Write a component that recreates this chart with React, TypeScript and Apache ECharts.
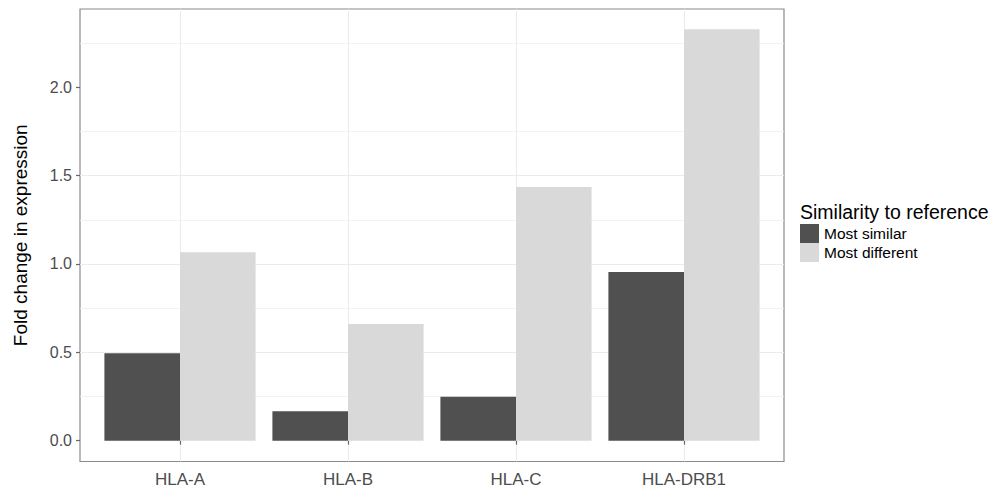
import React, { useEffect, useRef } from "react";
import * as echarts from "echarts";

const categories = ["HLA-A", "HLA-B", "HLA-C", "HLA-DRB1"];
const mostSimilar = [0.495, 0.166, 0.249, 0.955];
const mostDifferent = [1.066, 0.66, 1.436, 2.328];
const yTicks = [0, 0.5, 1, 1.5, 2];
const yMinor = [0.25, 0.75, 1.25, 1.75, 2.25];
const yMin = -0.118;
const yMax = 2.443;

const FONT = "Liberation Sans";

export default function App() {
  const ref = useRef<HTMLDivElement>(null);
  useEffect(() => {
    if (!ref.current) return;
    const chart = echarts.init(ref.current, undefined, { renderer: "svg" });
    const gridTop = 9;
    const gridHeight = 452.5;
    chart.setOption({
      animation: false,
      backgroundColor: "#ffffff",
      textStyle: { fontFamily: FONT },
      title: {
        text: "Similarity to reference",
        left: 800,
        top: 202,
        padding: 0,
        textStyle: { fontFamily: FONT, fontSize: 19.5, fontWeight: "normal", color: "#000000" },
      },
      legend: {
        data: ["Most similar", "Most different"],
        orient: "vertical",
        left: 800,
        top: 224,
        padding: 0,
        itemWidth: 19,
        itemHeight: 19,
        itemGap: 0,
        icon: "rect",
        selectedMode: false,
        textStyle: { fontFamily: FONT, fontSize: 15.5, color: "#000000" },
      },
      grid: [
        {
          left: 80,
          top: gridTop,
          width: 704,
          height: gridHeight,
          show: true,
          borderColor: "#8a8a8a",
          borderWidth: 1.2,
          backgroundColor: "transparent",
        },
        {
          left: 180,
          top: gridTop,
          width: 504,
          height: gridHeight,
          show: false,
        },
      ],
      xAxis: [
        { gridIndex: 0, type: "value", min: 0, max: 1, show: false },
        {
          gridIndex: 1,
          type: "category",
          data: categories,
          boundaryGap: false,
          z: 0,
          axisLine: { show: false },
          axisTick: { show: true, length: 4, lineStyle: { color: "#666666", width: 1.2 } },
          axisLabel: { interval: 0, margin: 9, fontSize: 17, color: "#4d4d4d", fontFamily: FONT },
          splitLine: { show: true, interval: 0, lineStyle: { color: "#ebebeb", width: 1 } },
        },
      ],
      yAxis: [
        {
          gridIndex: 0,
          type: "value",
          min: yMin,
          max: yMax,
          splitNumber: 5,
          z: 0,
          name: "Fold change in expression",
          nameLocation: "middle",
          nameGap: 50,
          nameTextStyle: { fontFamily: FONT, fontSize: 19, color: "#000000" },
          axisLine: { show: false },
          axisTick: {
            show: true,
            length: 4,
            customValues: yTicks,
            lineStyle: { color: "#666666", width: 1.2 },
          },
          axisLabel: {
            customValues: yTicks,
            margin: 8,
            fontSize: 16,
            color: "#4d4d4d",
            fontFamily: FONT,
            formatter: (v: number) => v.toFixed(1),
          },
          splitLine: {
            show: true,
            showMinLine: false,
            showMaxLine: false,
            lineStyle: { color: "#ebebeb", width: 1 },
          },
        },
        {
          gridIndex: 1,
          type: "value",
          min: yMin,
          max: yMax,
          show: false,
          splitLine: { show: false },
        },
      ],
      series: [
        {
          name: "__minor",
          type: "line",
          xAxisIndex: 0,
          yAxisIndex: 0,
          data: [],
          silent: true,
          z: 0,
          markLine: {
            silent: true,
            z: 0,
            symbol: "none",
            label: { show: false },
            lineStyle: { color: "#f0f0f0", width: 0.8, type: "solid" },
            data: yMinor.map((v) => ({ yAxis: v })),
          },
        },
        {
          name: "Most similar",
          type: "bar",
          xAxisIndex: 1,
          yAxisIndex: 1,
          data: mostSimilar,
          barCategoryGap: "10%",
          barGap: "0%",
          clip: false,
          z: 5,
          itemStyle: { color: "#505050" },
        },
        {
          name: "Most different",
          type: "bar",
          xAxisIndex: 1,
          yAxisIndex: 1,
          data: mostDifferent,
          barCategoryGap: "10%",
          barGap: "0%",
          clip: false,
          z: 5,
          itemStyle: { color: "#d9d9d9" },
        },
      ],
    });
    return () => chart.dispose();
  }, []);
  return (
    <div
      ref={ref}
      style={{ position: "fixed", left: 0, top: 0, width: 989, height: 491, background: "#fff" }}
    />
  );
}
